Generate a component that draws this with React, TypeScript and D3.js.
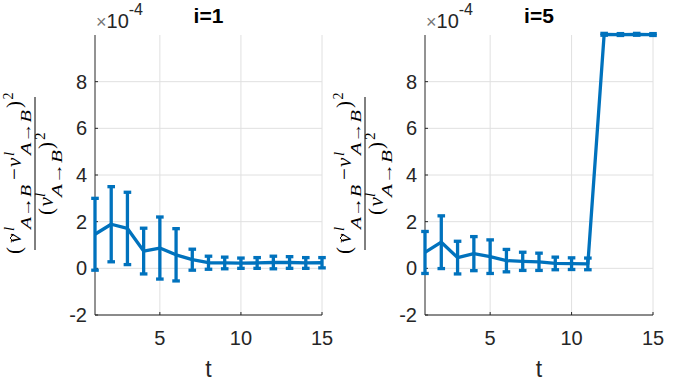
import React from 'react';
import * as d3 from 'd3';

// values are in units of 1e-4
const tSteps = [1, 2, 3, 4, 5, 6, 7, 8, 9, 10, 11, 12, 13, 14, 15];
const meanI1 = [1.46, 1.89, 1.71, 0.74, 0.87, 0.58, 0.37, 0.24, 0.23, 0.22, 0.23, 0.25, 0.25, 0.23, 0.24];
const errI1 = [1.54, 1.61, 1.55, 0.98, 1.33, 1.12, 0.45, 0.28, 0.25, 0.22, 0.23, 0.27, 0.25, 0.23, 0.22];
const meanI5 = [0.68, 1.12, 0.46, 0.63, 0.5, 0.33, 0.3, 0.28, 0.21, 0.2, 0.19, 10.03, 10.02, 10.03, 10.02];
const errI5 = [0.9, 1.13, 0.7, 0.73, 0.72, 0.48, 0.39, 0.37, 0.27, 0.25, 0.25, 0.04, 0.04, 0.04, 0.04];
const yTicks = [-2, 0, 2, 4, 6, 8];
const xTicks = [5, 10, 15];
const titles = ['i=1', 'i=5'];

const BLUE = '#0072BD';
const AX = '#262626';
const GRID = '#e0e0e0';
const SANS = 'Arial, "Liberation Sans", Helvetica, sans-serif';
const SERIF = '"Liberation Serif", "Times New Roman", "DejaVu Serif", serif';

const TOP = 35;
const BOTTOM = 315;

const YLabel = ({ cx }) => {
  // drawn in a rotated frame: local x = -page y, local y = page x
  const it = { fontFamily: SERIF, fontStyle: 'italic', fill: '#000' };
  const up = { fontFamily: SERIF, fill: '#000' };
  const t = (yStart, base, txt, size, style, len?) => (
    <text
      x={-yStart}
      y={base}
      fontSize={size}
      {...style}
      {...(len ? { textLength: len, lengthAdjust: 'spacingAndGlyphs' } : {})}
    >
      {txt}
    </text>
  );
  const nb = cx - 14;
  const db = cx + 18;
  return (
    <g transform="rotate(-90)">
      {/* numerator */}
      {t(254, nb, '(', 21, up)}
      {t(243, nb, 'v', 21, it)}
      <path d={`M${-241.5},${cx - 21.5} L${-238},${cx - 25} L${-234.5},${cx - 21.5}`} fill="none" stroke="#000" strokeWidth={0.9} />
      {t(231, cx - 21, 'l', 15, it)}
      {t(229, cx - 4, 'A→B', 15, it, 44)}
      {t(180, nb, '−', 21, up)}
      {t(167, nb, 'v', 21, it)}
      {t(156, cx - 21, 'l', 15, it)}
      {t(155, cx - 4, 'A→B', 15, it, 45)}
      {t(108, nb, ')', 21, up)}
      {t(99.5, cx - 22, '2', 14, up)}
      <line x1={-250} x2={-97} y1={cx} y2={cx} stroke="#000" strokeWidth={1} />
      {/* denominator */}
      {t(215, db, '(', 21, up)}
      {t(206.5, db, 'v', 21, it)}
      {t(197, cx + 10, 'l', 15, it)}
      {t(197, cx + 27, 'A→B', 15, it, 47)}
      {t(149, db, ')', 21, up)}
      {t(140, cx + 10, '2', 15, up)}
    </g>
  );
};

const Panel = ({ left, right, title, mean, err, labelX }) => {
  const x = d3.scaleLinear().domain([1, 15]).range([left, right]);
  const y = d3.scaleLinear().domain([-2, 10]).range([BOTTOM, TOP]);
  const pts = tSteps.map((t, i) => ({ t, m: mean[i], e: err[i] }));
  const line = d3.line<any>().x(d => x(d.t)).y(d => y(d.m));
  const cap = 3.8;
  return (
    <g>
      {/* grid */}
      {yTicks.map(v => (
        <line key={'gy' + v} x1={left} x2={right} y1={y(v)} y2={y(v)} stroke={GRID} strokeWidth={1} />
      ))}
      {xTicks.map(v => (
        <line key={'gx' + v} x1={x(v)} x2={x(v)} y1={TOP} y2={BOTTOM} stroke={GRID} strokeWidth={1} />
      ))}
      {/* axes */}
      <line x1={left} x2={left} y1={TOP} y2={BOTTOM} stroke={AX} strokeWidth={1} />
      <line x1={left} x2={right} y1={BOTTOM} y2={BOTTOM} stroke={AX} strokeWidth={1} />
      {yTicks.map(v => (
        <g key={'ty' + v}>
          <line x1={left} x2={left + 3} y1={y(v)} y2={y(v)} stroke={AX} />
          <text x={left - 8} y={y(v) + 7} textAnchor="end" fontFamily={SANS} fontSize={20} fill={AX}>
            {v}
          </text>
        </g>
      ))}
      {xTicks.map(v => (
        <g key={'tx' + v}>
          <line x1={x(v)} x2={x(v)} y1={BOTTOM} y2={BOTTOM - 3} stroke={AX} />
          <text x={x(v)} y={345} textAnchor="middle" fontFamily={SANS} fontSize={20} fill={AX}>
            {v}
          </text>
        </g>
      ))}
      <text x={(left + right) / 2} y={376.5} textAnchor="middle" fontFamily={SANS} fontSize={23} fill={AX}>
        t
      </text>
      <text x={(left + right) / 2} y={23} textAnchor="middle" fontFamily={SANS} fontSize={21} fontWeight="bold" fill="#000">
        {title}
      </text>
      {/* exponent */}
      <text x={left + 1} y={27.5} fontFamily={SANS} fontSize={20} fill={AX}>
        <tspan fill="#777" fontSize={18}>×</tspan>
        <tspan>10</tspan>
        <tspan dy={-12.5} fontSize={16}>-4</tspan>
      </text>
      {/* data */}
      <path d={line(pts) || ''} fill="none" stroke={BLUE} strokeWidth={3.3} strokeLinejoin="round" />
      {pts.map(d => (
        <g key={'e' + d.t} stroke={BLUE} strokeWidth={3.3}>
          <line x1={x(d.t)} x2={x(d.t)} y1={y(d.m - d.e)} y2={y(d.m + d.e)} />
          <line x1={x(d.t) - cap} x2={x(d.t) + cap} y1={y(d.m - d.e)} y2={y(d.m - d.e)} />
          <line x1={x(d.t) - cap} x2={x(d.t) + cap} y1={y(d.m + d.e)} y2={y(d.m + d.e)} />
        </g>
      ))}
      <YLabel cx={labelX} />
    </g>
  );
};

export default function App() {
  return (
    <svg
      width={680}
      height={381}
      style={{ position: 'fixed', left: 0, top: 0, background: '#fff' }}
    >
      <rect width={680} height={381} fill="#fff" />
      <Panel left={95} right={322} title={titles[0]} mean={meanI1} err={errI1} labelX={35} />
      <Panel left={425} right={653} title={titles[1]} mean={meanI5} err={errI5} labelX={365} />
    </svg>
  );
}
